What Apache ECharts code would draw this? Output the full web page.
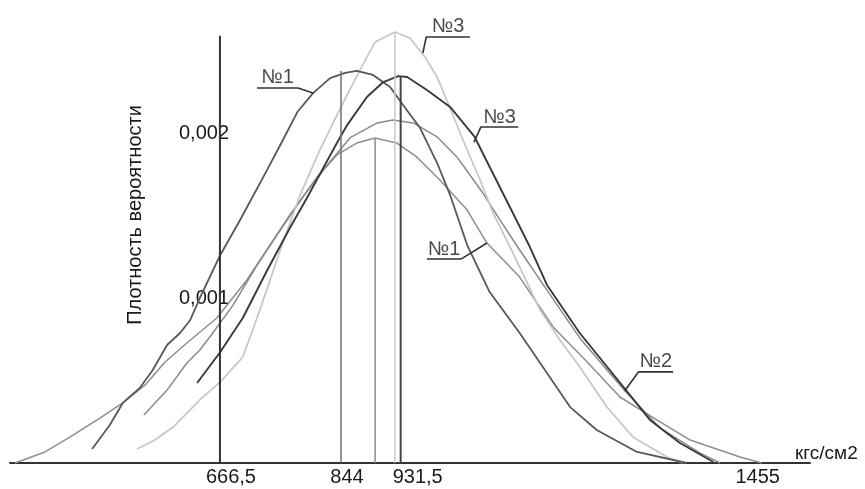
<!DOCTYPE html>
<html><head><meta charset="utf-8">
<script src="https://cdn.jsdelivr.net/npm/echarts@6/dist/echarts.min.js"></script>
<style>html,body{margin:0;padding:0;background:#fff}#c{width:865px;height:489px}</style>
</head><body><div id="c"></div>
<script>
// Tick labels
const xTickValues = [666.5, 844, 931.5, 1455];
const yTickValues = [0.001, 0.002];
const xUnit = 'кгс/см2';
const yTitle = 'Плотность вероятности';

// Curve №1 (dark gray, peak near 844)
const c1aX = [479,505,524,549,568,589,608,623,637,667,696,730,755,780,803,828,850,867,891,916,935,960,985,1004,1029,1062,1106,1140,1180,1219,1278,1351];
const c1aY = [0.000085,0.00023,0.000364,0.000455,0.000564,0.000715,0.000788,0.000867,0.001,0.001261,0.001473,0.001733,0.001927,0.002127,0.002242,0.002333,0.002364,0.002376,0.002352,0.002279,0.00217,0.00203,0.001818,0.001624,0.001321,0.001036,0.000788,0.000582,0.000339,0.0002,0.000067,0];
// Curve №3 (dark, peak near 931.5)
const c3aX = [633,667,700,736,769,794,818,838,853,882,906,928,941,970,1004,1040,1062,1096,1121,1146,1194,1258,1297,1341,1390];
const c3aY = [0.000485,0.000673,0.000879,0.00117,0.001424,0.001606,0.001788,0.001939,0.002048,0.002218,0.002309,0.002345,0.002339,0.002261,0.002158,0.001976,0.001794,0.001515,0.001309,0.001079,0.000788,0.000461,0.000261,0.000121,0.000006];
// Curve №3 (light, tallest)
const c3bX = [545,571,598,637,667,700,725,755,784,813,847,872,894,923,945,967,985,999,1029,1048,1067,1092,1117,1136,1165,1190,1234,1272,1322,1345];
const c3bY = [0.000085,0.000139,0.000218,0.000382,0.000491,0.000642,0.000927,0.001291,0.001624,0.001897,0.002182,0.002382,0.002552,0.002612,0.002576,0.002461,0.002339,0.0022,0.001897,0.001715,0.001515,0.001309,0.001091,0.000927,0.000746,0.000606,0.000339,0.000158,0.000036,0];
// Curve №2 (gray)
const c2X = [555,589,618,637,656,686,721,755,788,818,857,897,920,950,985,1014,1052,1077,1106,1146,1194,1263,1312,1370,1400];
const c2Y = [0.000291,0.000442,0.000606,0.000685,0.000788,0.000958,0.0012,0.001412,0.001612,0.001776,0.00197,0.002061,0.002079,0.002061,0.001976,0.001855,0.001636,0.001473,0.001291,0.001048,0.000758,0.000424,0.000212,0.000061,0];
// Curve №1 (gray, widest)
const c1bX = [366,410,447,491,524,557,586,618,662,706,740,769,809,838,867,894,926,955,989,1029,1058,1106,1155,1205,1253,1307,1356,1429,1461];
const c1bY = [0,0.000067,0.000158,0.000273,0.000364,0.000473,0.000612,0.000727,0.000879,0.001109,0.001321,0.001503,0.001733,0.001867,0.001939,0.00197,0.001939,0.001855,0.001715,0.001533,0.001333,0.001127,0.000824,0.000612,0.0004,0.000261,0.000139,0.000036,0];

// Vertical lines (means) and their heights
const meanX = [666.5, 844, 894, 923, 931.5];
const meanTop = [0.00259, 0.002376, 0.00197, 0.002612, 0.002345];

// Annotations
const annText = ['№1','№3','№3','№1','№2'];
const annLineX0 = [721, 969, 1049, 970, 1280];
const annLineX1 = [781, 1033, 1104, 1020, 1331];
const annLineY = [0.002273, 0.002582, 0.002036, 0.001236, 0.000552];
const annTipX = [803, 964, 1039, 1058, 1260];
const annTipY = [0.002242, 0.002485, 0.001945, 0.001333, 0.000436];
const annSide = ['end','start','start','end','start'];

const FONT = 'Liberation Sans, Arial, sans-serif';
const TXT = '#1a1a1a';
const zip = (xs, ys) => xs.map((x, i) => [x, ys[i]]);

const curveStyles = [
  {x:c1bX, y:c1bY, color:'#8e8e8e', w:1.5},
  {x:c2X, y:c2Y, color:'#8a8a8a', w:1.5},
  {x:c3bX, y:c3bY, color:'#c6c6c6', w:1.7},
  {x:c1aX, y:c1aY, color:'#585858', w:1.8},
  {x:c3aX, y:c3aY, color:'#3a3a3a', w:1.9}
];
const meanColors = ['#333333','#707070','#8a8a8a','#c8c8c8','#444444'];
const meanWidths = [2, 1.5, 1.5, 1.5, 2];

const series = [];
curveStyles.forEach(c => series.push({
  type:'line', data: zip(c.x, c.y), symbol:'none', smooth:false, clip:false,
  lineStyle:{color:c.color, width:c.w, join:'round'}, silent:true
}));
meanX.forEach((m, i) => series.push({
  type:'line', data:[[m, 0],[m, meanTop[i]]], symbol:'none', clip:false,
  lineStyle:{color:meanColors[i], width:meanWidths[i]}, silent:true
}));
annText.forEach((t, i) => {
  const a = [annLineX0[i], annLineY[i]], b = [annLineX1[i], annLineY[i]], tip = [annTipX[i], annTipY[i]];
  const path = annSide[i] === 'end' ? [a, b, tip] : [b, a, tip];
  series.push({type:'line', data:path, symbol:'none', clip:false,
    lineStyle:{color:'#333', width:1.6}, silent:true});
});
series.push({
  type:'scatter', symbolSize:0, clip:false, silent:true,
  data: annText.map((t, i) => ({value:[(annLineX0[i]+annLineX1[i])/2, annLineY[i]], name:t})),
  label:{show:true, position:'top', distance:0, formatter:p => p.name,
    fontFamily:FONT, fontSize:20, color:TXT}
});

const labelPad = {666.5:22, 844:12, 931.5:34, 1455:0};
const rich = {};
Object.values(labelPad).forEach(p => { rich['p'+p] = {padding:[0,0,0,p], fontFamily:FONT, fontSize:20, color:TXT}; });

const chart = echarts.init(document.getElementById('c'), null, {renderer:'canvas'});
chart.setOption({
  animation:false,
  backgroundColor:'#fff',
  grid:{left:10, right:55, top:1, bottom:26},
  xAxis:{
    type:'value', min:358.66, max:1531.7,
    axisLine:{show:true, lineStyle:{color:'#333', width:2}},
    axisTick:{show:false}, splitLine:{show:false},
    axisLabel:{show:true, customValues:xTickValues, margin:4,
      formatter:v => '{p' + (labelPad[v] ?? 0) + '|' + String(v).replace('.', ',') + '}', rich:rich,
      fontFamily:FONT, fontSize:20, color:TXT},
    name:xUnit, nameLocation:'end', nameGap:-15,
    nameTextStyle:{fontFamily:FONT, fontSize:19, color:TXT, align:'left', verticalAlign:'bottom'}
  },
  yAxis:{
    type:'value', min:0, max:0.0028, offset:-210,
    axisLine:{show:false}, axisTick:{show:false}, splitLine:{show:false},
    axisLabel:{show:true, customValues:yTickValues, margin:-9,
      formatter:v => String(v).replace('.', ','), fontFamily:FONT, fontSize:20, color:TXT}
  },
  graphic:[{type:'text', x:135, y:215, rotation:Math.PI/2,
    style:{text:yTitle, fontFamily:FONT, fontSize:20, fill:TXT, align:'center', verticalAlign:'middle'}}],
  series:series
});
</script>
</body></html>
